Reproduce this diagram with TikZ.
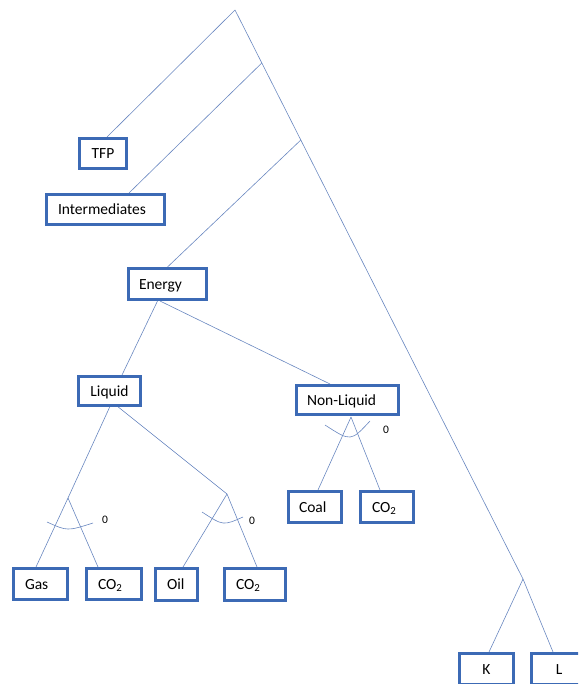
\documentclass[tikz,border=0pt]{standalone}
\usepackage{fontspec}
\setmainfont{Carlito}
\usetikzlibrary{backgrounds,calc}
\definecolor{boxblue}{RGB}{60,106,181}
\definecolor{lineblue}{RGB}{105,135,192}
\begin{document}
\begin{tikzpicture}[x=1pt,y=-1pt,
  bx/.style={draw=boxblue, line width=3pt, fill=white, inner ysep=0pt,
    font=\fontsize{15.5}{18}\selectfont, align=left, text height=10.3pt, text depth=0pt},
  ln/.style={draw=lineblue, line width=0.6pt},
  zero/.style={font=\fontsize{11.5}{13}\selectfont, inner sep=0pt, text=black}]
\useasboundingbox (0,0) rectangle (578,684);
\clip (0,0) rectangle (578,684);

% boxes
\node[bx, text width=39pt, inner xsep=4pt, align=center, minimum height=30pt] (tfp) at (103,153.5) {TFP};
\node[bx, text width=95pt, inner xsep=11.5pt, minimum height=30pt] (int) at (105.5,209.5) {Intermediates};
\node[bx, text width=57pt, inner xsep=10.5pt, minimum height=31pt] (en) at (167.5,284) {Energy};
\node[bx, text width=54pt, inner xsep=4pt, align=center, minimum height=29pt] (liq) at (109.5,391) {Liquid};
\node[bx, text width=81pt, inner xsep=10.5pt, minimum height=29pt] (nliq) at (347.5,400) {Non-Liquid};
\node[bx, text width=32pt, inner xsep=10.5pt, minimum height=31pt] (coal) at (315,507) {Coal};
\node[bx, text width=30pt, inner xsep=11.5pt, minimum height=31pt] (co2n) at (387,507) {CO\textsubscript{2}};
\node[bx, text width=31pt, inner xsep=11.5pt, minimum height=31pt] (gas) at (40.5,584) {Gas};
\node[bx, text width=32pt, inner xsep=11.5pt, minimum height=31pt] (co2g) at (114,584) {CO\textsubscript{2}};
\node[bx, text width=19pt, inner xsep=11.5pt, minimum height=32pt] (oil) at (176.5,584.5) {Oil};
\node[bx, text width=38pt, inner xsep=11.5pt, minimum height=32pt] (co2o) at (255,584.5) {CO\textsubscript{2}};
\node[bx, text width=46pt, inner xsep=4pt, align=center, minimum height=31pt] (k) at (486.5,669) {K};
\node[bx, text width=47pt, inner xsep=4pt, align=center, minimum height=31pt] (l) at (559,669) {L};

% junctions
\coordinate (apex) at (235,10);
\coordinate (klj) at (523,579);
\coordinate (n1) at ($(apex)!0.0931!(klj)$);
\coordinate (n2) at ($(apex)!0.2285!(klj)$);
\coordinate (lj) at (112,402);
\coordinate (gj) at (68,498);
\coordinate (oj) at (227,494);
\coordinate (nj) at (351,417);

% zero labels
\node[zero] (z1) at (105,520) {0};
\node[zero] (z2) at (252,521) {0};
\node[zero] (z3) at (386,430) {0};

\begin{pgfonlayer}{background}
\draw[ln] (apex) -- (klj);
\draw[ln] (apex) -- ([xshift=4pt]tfp.north);
\draw[ln] (n1) -- ([xshift=23.5pt]int.north);
\draw[ln] (n2) -- (en.north);
\draw[ln] ([xshift=-10pt]en.south) -- ([xshift=12.5pt]liq.north);
\draw[ln] ([xshift=-7.5pt]en.south) -- ([xshift=-17.5pt]nliq.north);
\draw[ln] (lj) -- (gj);
\draw[ln] (lj) -- (oj);
\draw[ln] (gj) -- ([xshift=-4.5pt]gas.north);
\draw[ln] (gj) -- ([xshift=-16pt]co2g.north);
\draw[ln] (oj) -- ([xshift=6.5pt]oil.north);
\draw[ln] (oj) -- ([xshift=2pt]co2o.north);
\draw[ln] (nj) -- ([xshift=3pt]coal.north);
\draw[ln] (nj) -- ([xshift=-7pt]co2n.north);
\draw[ln] (klj) -- ([xshift=2.5pt]k.north);
\draw[ln] (klj) -- ([xshift=-6pt]l.north);
% elasticity arcs
\draw[ln] (47,522) .. controls (67.3,531.2) .. (93,523);
\draw[ln] (202,512) .. controls (223.2,525.8) .. (243,517);
\draw[ln] (325,425) .. controls (350.8,441.7) .. (370,421);
\end{pgfonlayer}
\end{tikzpicture}
\end{document}
